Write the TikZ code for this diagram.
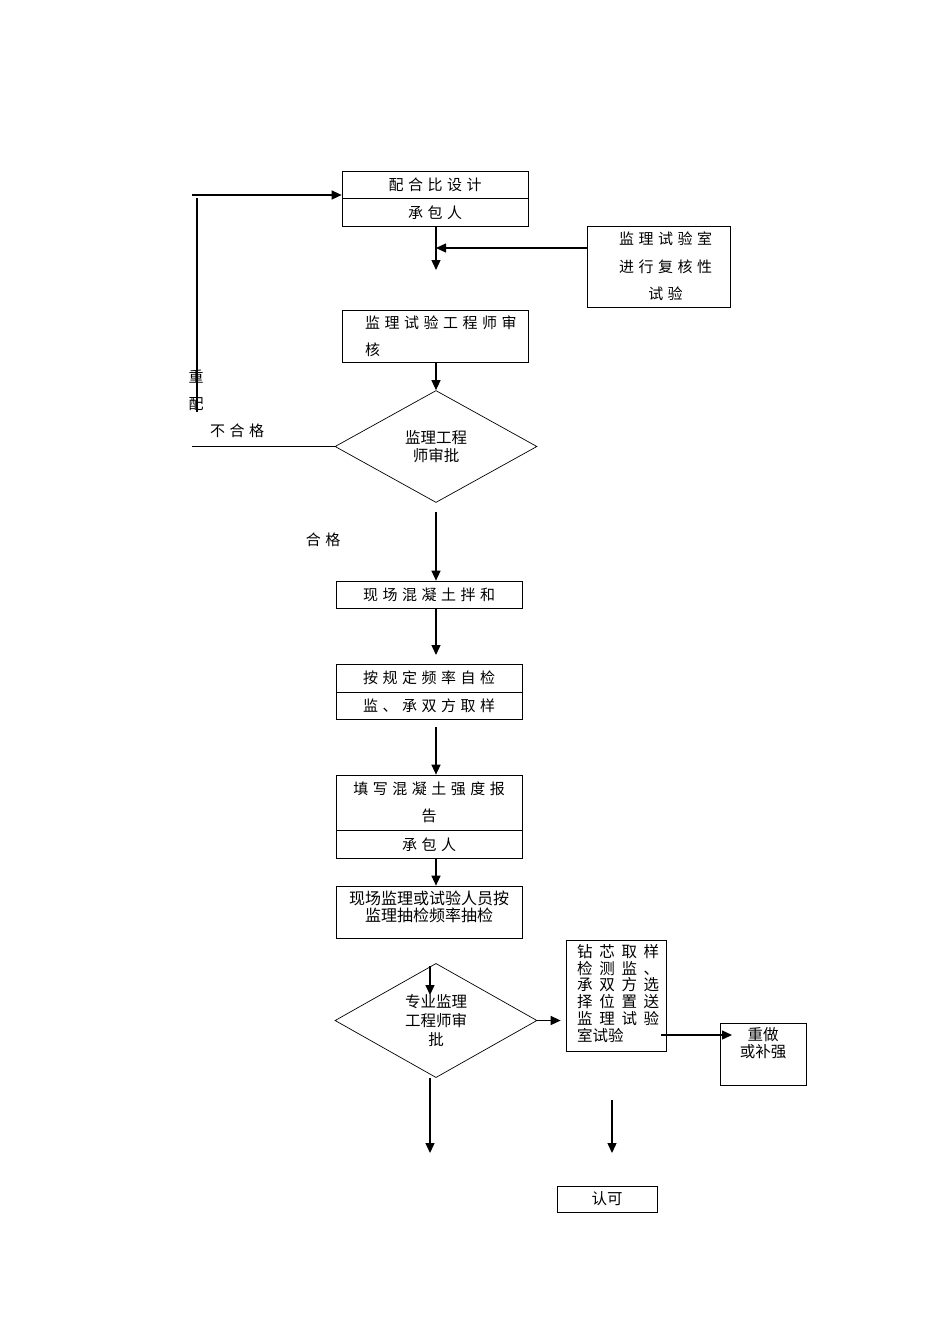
\documentclass[tikz,border=0pt]{standalone}
\usepackage{fontspec}
\newfontfamily\cjk{Noto Sans CJK SC}
\newfontfamily\cjksp[LetterSpace=30]{Noto Sans CJK SC}
\usetikzlibrary{positioning,shapes.geometric,arrows.meta}
\newcommand{\spreadline}[1]{\makebox[82pt][s]{#1}}
\tikzset{
  cell/.style={draw, line width=0.7pt, minimum width=186pt, minimum height=27pt, inner sep=0pt, font=\fontsize{15}{27}\cjksp},
  check/.style={draw, diamond, line width=0.7pt, minimum width=202pt, minimum height=112pt, inner sep=0pt, align=center, font=\fontsize{15.5}{18.5}\cjk},
  flow/.style={-{Triangle[length=10pt,width=9pt]}, line width=1.3pt},
  wire/.style={line width=1.3pt},
}
\begin{document}
\begin{tikzpicture}[x=1pt,y=-1pt]
\useasboundingbox (0,0) rectangle (950,1344);
%\draw[very thin,gray] (0,0) grid[step=50] (950,1344);

% top part
\node[cell, minimum height=27pt] (mix) at (435,184.5) {配合比设计};
\node[cell, minimum height=28pt, below=0pt of mix] (mixby) {承包人};
\node[draw, line width=0.7pt, minimum width=143pt, minimum height=81pt, inner sep=0pt,
  label={[anchor=center, xshift=7pt, align=center, font=\fontsize{15}{27.5}\cjksp]center:监理试验室\\进行复核性\\试验}] (lab) at (658.5,266.5) {};
\node[cell, minimum height=52pt,
  label={[anchor=north west, xshift=20pt, yshift=-3pt, align=left, font=\fontsize{15}{27}\cjksp]north west:监理试验工程师审\\核}] (audit) at (435,336) {};
\node[check] (check1) at (436,446.5) {监理工程\\师审批};

% loop back
\coordinate (back) at (192,195);
\coordinate (rtop) at (197,198);
\coordinate (rbot) at (197,412);
\coordinate (fail) at (192,445);
\node[font=\fontsize{15}{27}\cjk, align=center] (redo) at (196,390.5) {重\\配};
\node[font=\fontsize{15}{18}\cjksp] (failtxt) at (237,431) {不合格};
\node[font=\fontsize{15}{18}\cjksp] (passtxt) at (323,540) {合格};

% middle part
\node[cell] (mixing) at (429,594.5) {现场混凝土拌和};
\node[cell, minimum height=28pt] (sample) at (429,678) {按规定频率自检};
\node[cell, below=0pt of sample] (sample2) {监、承双方取样};
\node[cell, minimum height=55pt, align=center] (report) at (429,802.5) {填写混凝土强度报\\告};
\node[cell, minimum height=28pt, below=0pt of report] (report2) {承包人};
\node[cell, minimum height=52pt,
  label={[anchor=north, yshift=-2pt, align=center, font=\fontsize{16}{17}\cjk]north:现场监理或试验人员按\\监理抽检频率抽检}] (spot) at (429,912) {};

% bottom part
\node[check, minimum height=113pt, font=\fontsize{15.5}{19}\cjk] (check2) at (436,1020.5) {专业监理\\工程师审\\批};
\node[draw, line width=0.7pt, minimum width=100pt, minimum height=111pt, inner sep=0pt,
  label={[anchor=north west, xshift=8pt, yshift=-1pt, align=left, font=\fontsize{15.5}{16.8}\cjk]north west:\spreadline{钻\hfill 芯\hfill 取\hfill 样}\\\spreadline{检\hfill 测\hfill 监\hfill 、}\\\spreadline{承\hfill 双\hfill 方\hfill 选}\\\spreadline{择\hfill 位\hfill 置\hfill 送}\\\spreadline{监\hfill 理\hfill 试\hfill 验}\\室试验}] (core) at (616,995.5) {};
\node[draw, line width=0.7pt, minimum width=86pt, minimum height=62pt, inner sep=0pt,
  label={[anchor=north, yshift=-1pt, align=center, font=\fontsize{15.5}{17}\cjk]north:重做\\或补强}] (fix) at (763,1054) {};
\node[draw, line width=0.7pt, minimum width=100pt, minimum height=26pt, inner sep=0pt, font=\fontsize{15.5}{17}\cjk] (ok) at (607,1199) {\raisebox{3pt}{认可}};

% connectors
\draw[flow] (back) -- (back -| mix.west);
\draw[wire] (rtop) -- (rbot);
\draw[wire] (check1.west) -- (check1.west -| fail);
\coordinate (m1) at (436,270);
\draw[flow] (mixby.south -| m1) -- (m1);
\coordinate (join) at (436,248);
\draw[flow] (lab.west |- join) -- (join);
\draw[flow] (audit.south -| check1.north) -- (check1.north);
\coordinate (p1) at (436,512);
\draw[flow] (p1) -- (p1 |- mixing.north);
\coordinate (p2) at (436,655);
\draw[flow] (p2 |- mixing.south) -- (p2);
\coordinate (p3) at (436,727);
\draw[flow] (p3) -- (p3 |- report.north);
\draw[flow] (report2.south -| p3) -- (p3 |- spot.north);
\coordinate (d1) at (430,966);
\coordinate (d2) at (430,995);
\draw[flow] (d1) -- (d2);
\draw[flow, shorten >=5pt] (check2.east) -- (check2.east -| core.west);
\coordinate (c1) at (661,1035);
\coordinate (c2) at (732,1035);
\draw[flow] (c1) -- (c2);
\coordinate (e1) at (430,1153);
\draw[flow] (check2.south -| e1) -- (e1);
\coordinate (k1) at (612,1100);
\coordinate (k2) at (612,1153);
\draw[flow] (k1) -- (k2);
\end{tikzpicture}
\end{document}
